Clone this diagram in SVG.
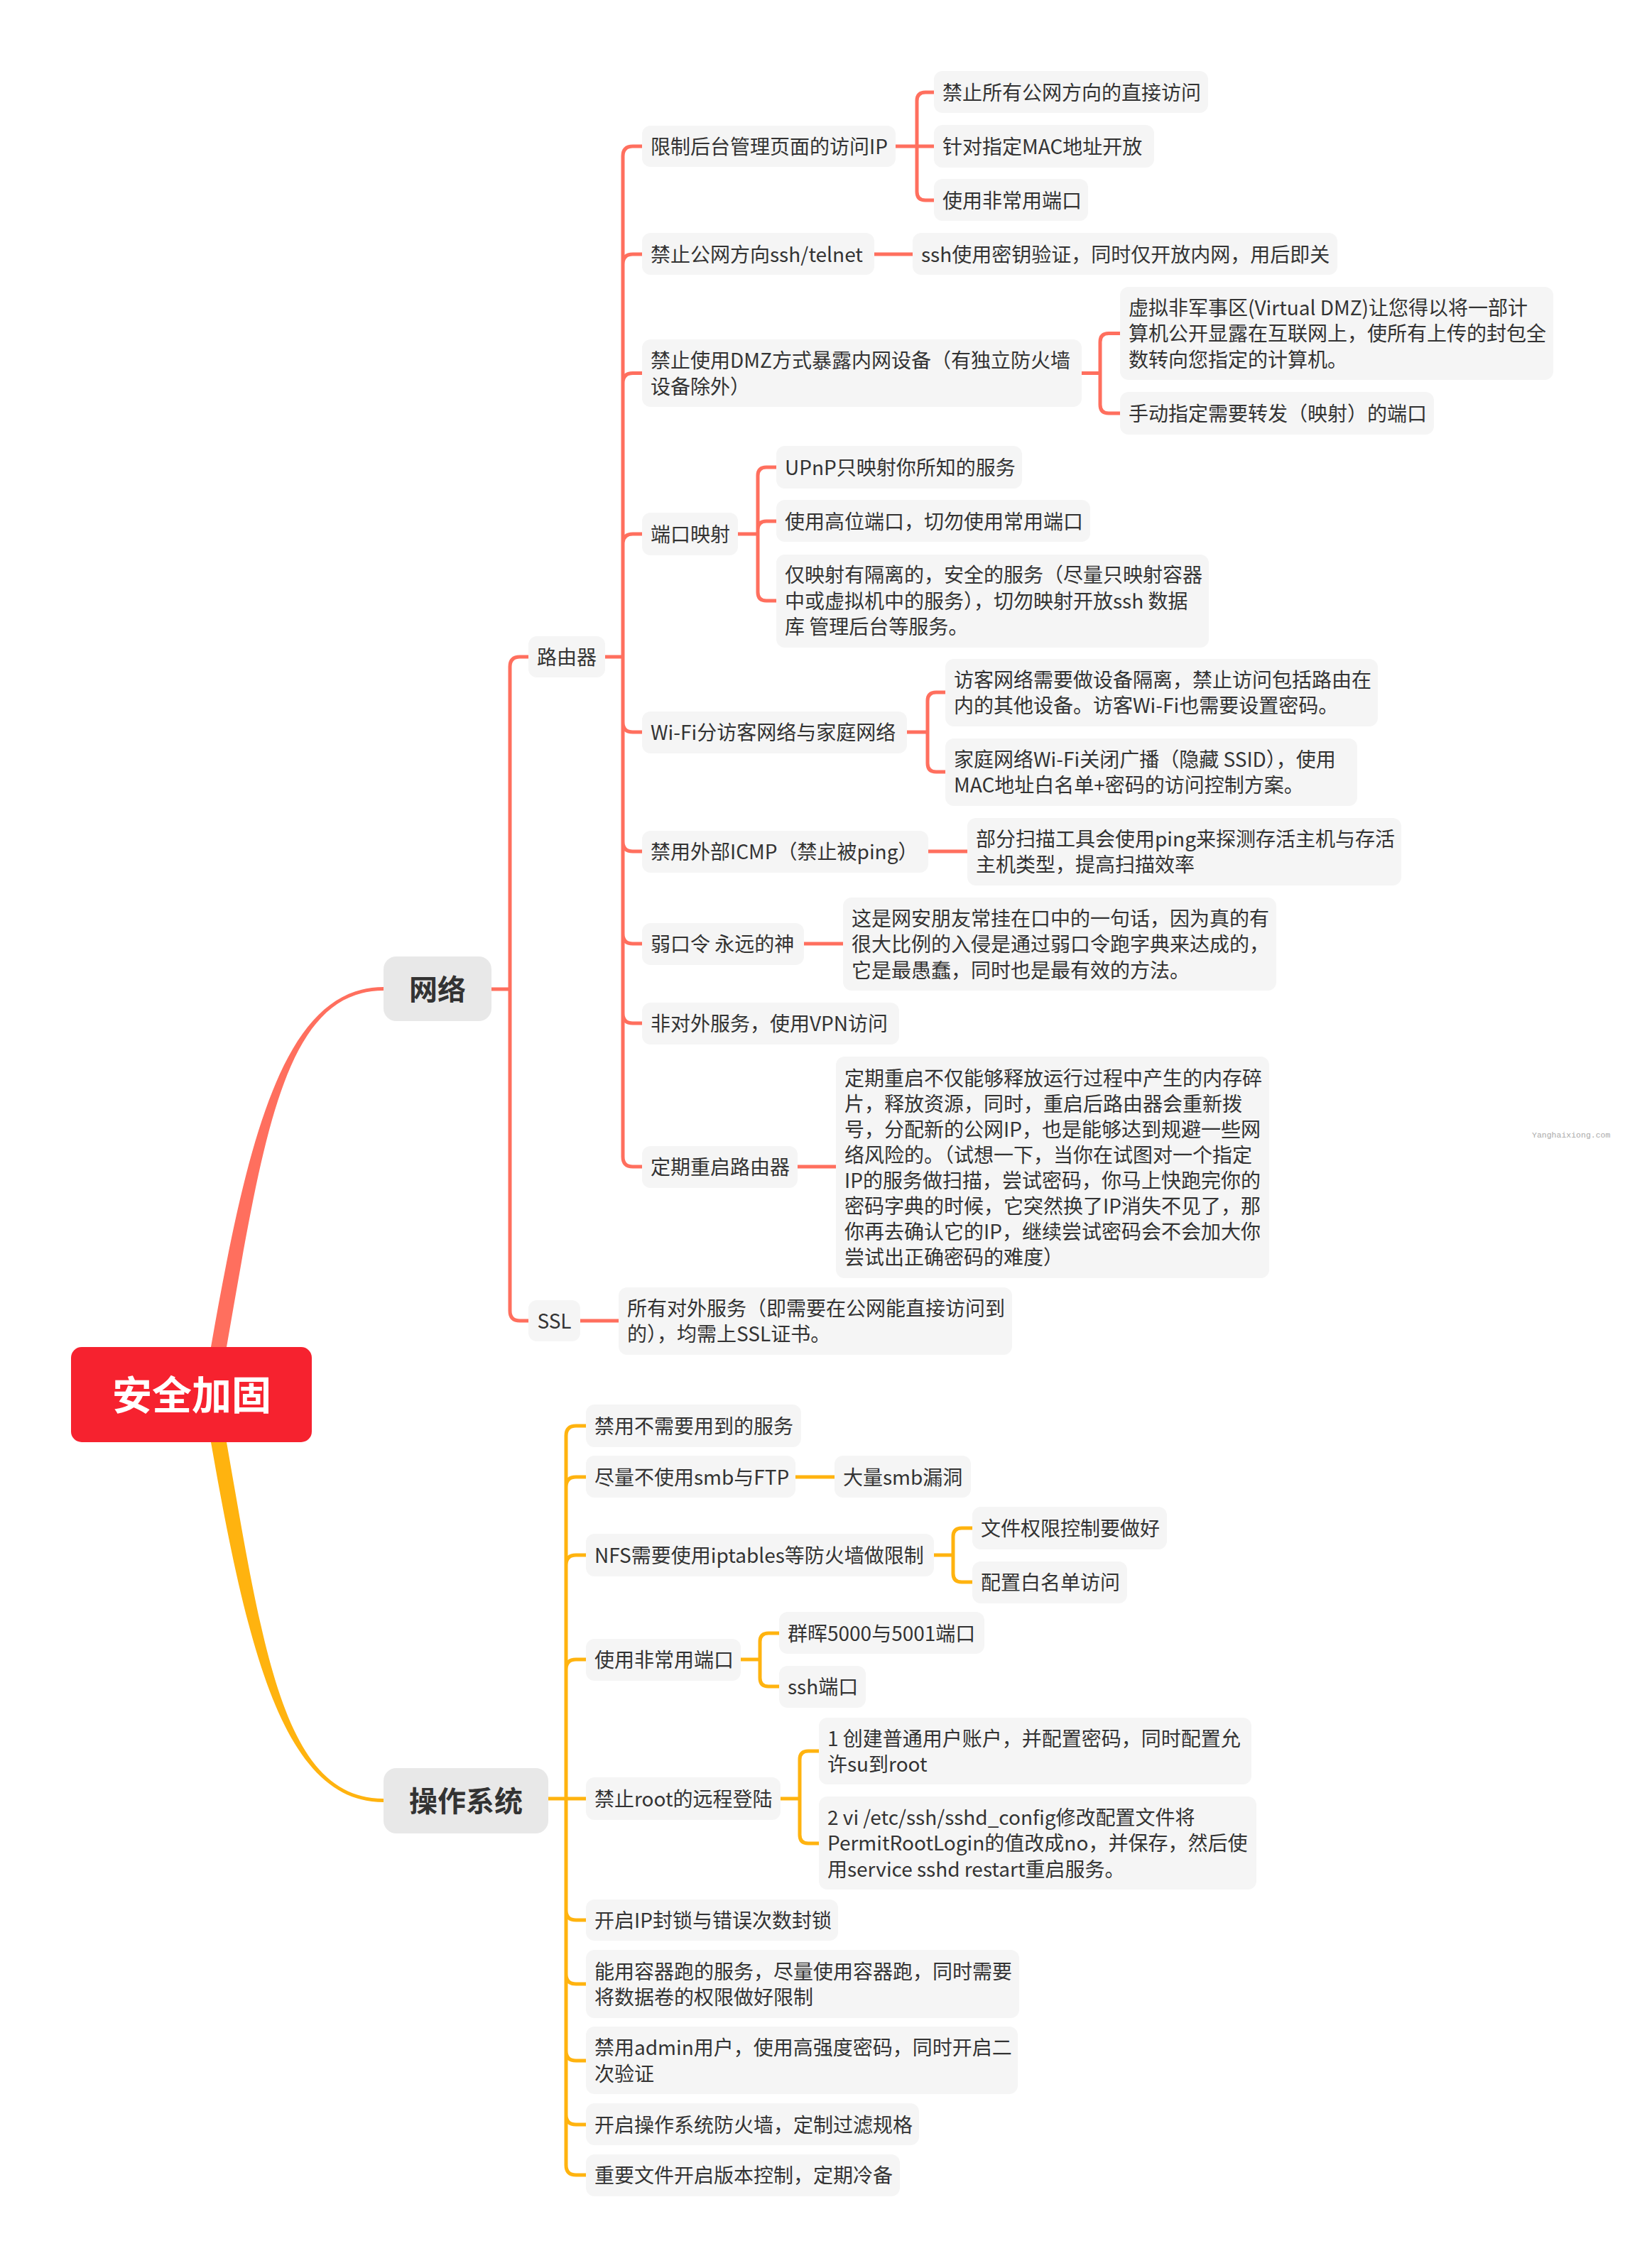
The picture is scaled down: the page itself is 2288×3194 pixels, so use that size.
<svg xmlns="http://www.w3.org/2000/svg" width="2288" height="3194" viewBox="0 0 2288 3194">
<style>
.box{fill:#F5F5F5}
.t{font-family:"Noto Sans CJK SC","Noto Sans",sans-serif;font-size:28px;fill:#333333}
.l1{fill:#E8E8E8}
.h1{font-family:"Noto Sans CJK SC","Noto Sans",sans-serif;font-size:40px;font-weight:bold;fill:#333333;text-anchor:middle}
.c1{fill:none;stroke:#FF6F5E;stroke-width:5;stroke-linecap:round;stroke-linejoin:round}
.c2{fill:none;stroke:#FFB30F;stroke-width:5;stroke-linecap:round;stroke-linejoin:round}
.wm{font-family:"Liberation Mono",monospace;font-size:11.5px;fill:#AAAAAA}
</style>
<rect width="2288" height="3194" fill="#FFFFFF"/>
<g id="connectors">
<path d="M297 1930 L297 1897 C349 1600 400 1390 540 1390 L540 1395 C400 1395 371 1600 319 1897 L319 1930 Z" fill="#FF6F5E"/>
<path d="M297 2000 L297 2031 C349 2328 400 2538 540 2538 L540 2533 C400 2533 371 2328 319 2031 L319 2000 Z" fill="#FFB30F"/>
<path class="c1" d="M692 1393 H718 M718 1393 V939 Q718 925 732 925 H744 M718 1393 V1846 Q718 1860 732 1860 H744"/>
<path class="c1" d="M852 925 H877 M877 925 V220 Q877 206 891 206 H904 M877 372 Q877 358 891 358 H904 M877 539.5 Q877 525.5 891 525.5 H904 M877 766 Q877 752 891 752 H904 M877 925 V1629 Q877 1643 891 1643 H904 M877 1017 Q877 1031 891 1031 H904 M877 1185 Q877 1199 891 1199 H904 M877 1315 Q877 1329 891 1329 H904 M877 1427 Q877 1441 891 1441 H904"/>
<path class="c1" d="M1261 206 H1315 M1291 206 V142 Q1291 130 1303 130 H1315 M1291 206 V270 Q1291 282 1303 282 H1315"/>
<path class="c1" d="M1231 358 H1285"/>
<path class="c1" d="M1523 525.5 H1549 M1549 525.5 V481.5 Q1549 469.5 1561 469.5 H1577 M1549 525.5 V570 Q1549 582 1561 582 H1577"/>
<path class="c1" d="M1039 752 H1067 M1067 752 V670 Q1067 658 1079 658 H1093 M1067 752 V746 Q1067 734 1079 734 H1093 M1067 752 V834 Q1067 846 1079 846 H1093"/>
<path class="c1" d="M1277 1031 H1306 M1306 1031 V987 Q1306 975 1318 975 H1331 M1306 1031 V1075 Q1306 1087 1318 1087 H1331"/>
<path class="c1" d="M1307 1199 H1362 M1132 1329 H1187 M1123 1643 H1177 M817 1860 H871"/>
<path class="c2" d="M772 2533 H825 M797 2533 V2022 Q797 2008 811 2008 H825 M797 2094 Q797 2080 811 2080 H825 M797 2204 Q797 2190 811 2190 H825 M797 2351 Q797 2337 811 2337 H825 M797 2533 V3049 Q797 3063 811 3063 H825 M797 2690 Q797 2704 811 2704 H825 M797 2780 Q797 2794 811 2794 H825 M797 2888 Q797 2902 811 2902 H825 M797 2978 Q797 2992 811 2992 H825"/>
<path class="c2" d="M1120 2080 H1175"/>
<path class="c2" d="M1315 2190 H1342 M1342 2190 V2164 Q1342 2152 1354 2152 H1369 M1342 2190 V2216 Q1342 2228 1354 2228 H1369"/>
<path class="c2" d="M1043 2337 H1070 M1070 2337 V2312 Q1070 2300 1082 2300 H1097 M1070 2337 V2363 Q1070 2375 1082 2375 H1097"/>
<path class="c2" d="M1099 2533 H1126 M1126 2533 V2478 Q1126 2466 1138 2466 H1153 M1126 2533 V2584 Q1126 2596 1138 2596 H1153"/>
</g>
<g id="root"><rect x="100" y="1897" width="339" height="134" rx="15" fill="#F6222F"/><text x="270" y="1985" font-family="Noto Sans CJK SC,sans-serif" font-size="56" font-weight="bold" fill="#FFFFFF" text-anchor="middle">安全加固</text></g>
<g id="n-network"><rect class="l1" x="540" y="1347" width="152" height="91" rx="18"/><text class="h1" x="616" y="1408">网络</text></g>
<g id="n-os"><rect class="l1" x="540" y="2490" width="232" height="92" rx="18"/><text class="h1" x="656" y="2551">操作系统</text></g>
<g id="n-router"><rect class="box" x="744" y="896" width="108" height="58" rx="12"/><text class="t" x="756" y="935.5">路由器</text></g>
<g id="n-ssl"><rect class="box" x="744" y="1831" width="73" height="58" rx="12"/><text class="t" x="780.5" y="1870.5" text-anchor="middle">SSL</text></g>
<g id="n-limit"><rect class="box" x="904" y="177" width="357" height="58" rx="12"/><text class="t" x="916" y="216.5">限制后台管理页面的访问IP</text></g>
<g id="n-limit1"><rect class="box" x="1315" y="100" width="386" height="59" rx="12"/><text class="t" x="1327" y="140.5">禁止所有公网方向的直接访问</text></g>
<g id="n-limit2"><rect class="box" x="1315" y="176" width="310" height="60" rx="12"/><text class="t" x="1327" y="216.5">针对指定MAC地址开放</text></g>
<g id="n-limit3"><rect class="box" x="1315" y="252" width="217" height="59" rx="12"/><text class="t" x="1327" y="292.5">使用非常用端口</text></g>
<g id="n-ssh"><rect class="box" x="904" y="328" width="327" height="59" rx="12"/><text class="t" x="916" y="368.5">禁止公网方向ssh/telnet</text></g>
<g id="n-ssh1"><rect class="box" x="1285" y="328" width="598" height="59" rx="12"/><text class="t" x="1297" y="368.5">ssh使用密钥验证，同时仅开放内网，用后即关</text></g>
<g id="n-dmz"><rect class="box" x="904" y="478" width="619" height="95" rx="12"/><text class="t"><tspan x="916" y="518">禁止使用DMZ方式暴露内网设备（有独立防火墙</tspan><tspan x="916" y="554.5">设备除外）</tspan></text></g>
<g id="n-dmz1"><rect class="box" x="1577" y="404" width="610" height="131" rx="12"/><text class="t"><tspan x="1589" y="443.5">虚拟非军事区(Virtual DMZ)让您得以将一部计</tspan><tspan x="1589" y="480">算机公开显露在互联网上，使所有上传的封包全</tspan><tspan x="1589" y="516.5">数转向您指定的计算机。</tspan></text></g>
<g id="n-dmz2"><rect class="box" x="1577" y="552" width="442" height="60" rx="12"/><text class="t" x="1589" y="592.5">手动指定需要转发（映射）的端口</text></g>
<g id="n-port"><rect class="box" x="904" y="722" width="135" height="60" rx="12"/><text class="t" x="916" y="762.5">端口映射</text></g>
<g id="n-port1"><rect class="box" x="1093" y="628" width="346" height="60" rx="12"/><text class="t" x="1105" y="668.5">UPnP只映射你所知的服务</text></g>
<g id="n-port2"><rect class="box" x="1093" y="704" width="442" height="59" rx="12"/><text class="t" x="1105" y="744.5">使用高位端口，切勿使用常用端口</text></g>
<g id="n-port3"><rect class="box" x="1093" y="781" width="609" height="131" rx="12"/><text class="t"><tspan x="1105" y="820">仅映射有隔离的，安全的服务（尽量只映射容器</tspan><tspan x="1105" y="856.5">中或虚拟机中的服务），切勿映射开放ssh 数据</tspan><tspan x="1105" y="893">库 管理后台等服务。</tspan></text></g>
<g id="n-wifi"><rect class="box" x="904" y="1002" width="373" height="59" rx="12"/><text class="t" x="916" y="1041.5">Wi-Fi分访客网络与家庭网络</text></g>
<g id="n-wifi1"><rect class="box" x="1331" y="928" width="609" height="95" rx="12"/><text class="t"><tspan x="1343" y="967.5">访客网络需要做设备隔离，禁止访问包括路由在</tspan><tspan x="1343" y="1004">内的其他设备。访客Wi-Fi也需要设置密码。</tspan></text></g>
<g id="n-wifi2"><rect class="box" x="1331" y="1040" width="580" height="95" rx="12"/><text class="t"><tspan x="1343" y="1079.5">家庭网络Wi-Fi关闭广播（隐藏 SSID），使用</tspan><tspan x="1343" y="1116">MAC地址白名单+密码的访问控制方案。</tspan></text></g>
<g id="n-icmp"><rect class="box" x="904" y="1170" width="403" height="59" rx="12"/><text class="t" x="916" y="1209.5">禁用外部ICMP（禁止被ping）</text></g>
<g id="n-icmp1"><rect class="box" x="1362" y="1152" width="611" height="95" rx="12"/><text class="t"><tspan x="1374" y="1191.5">部分扫描工具会使用ping来探测存活主机与存活</tspan><tspan x="1374" y="1228">主机类型，提高扫描效率</tspan></text></g>
<g id="n-weak"><rect class="box" x="904" y="1300" width="228" height="59" rx="12"/><text class="t" x="916" y="1339.5">弱口令 永远的神</text></g>
<g id="n-weak1"><rect class="box" x="1187" y="1264" width="610" height="131" rx="12"/><text class="t"><tspan x="1199" y="1303.5">这是网安朋友常挂在口中的一句话，因为真的有</tspan><tspan x="1199" y="1340">很大比例的入侵是通过弱口令跑字典来达成的，</tspan><tspan x="1199" y="1376.5">它是最愚蠢，同时也是最有效的方法。</tspan></text></g>
<g id="n-vpn"><rect class="box" x="904" y="1412" width="362" height="59" rx="12"/><text class="t" x="916" y="1451.5">非对外服务，使用VPN访问</text></g>
<g id="n-reboot"><rect class="box" x="904" y="1614" width="219" height="59" rx="12"/><text class="t" x="916" y="1653.5">定期重启路由器</text></g>
<g id="n-reboot1"><rect class="box" x="1177" y="1488" width="610" height="312" rx="12"/><text class="t"><tspan x="1189" y="1528.5">定期重启不仅能够释放运行过程中产生的内存碎</tspan><tspan x="1189" y="1564.5">片，释放资源，同时，重启后路由器会重新拨</tspan><tspan x="1189" y="1600.5">号，分配新的公网IP，也是能够达到规避一些网</tspan><tspan x="1189" y="1636.5">络风险的。（试想一下，当你在试图对一个指定</tspan><tspan x="1189" y="1672.5">IP的服务做扫描，尝试密码，你马上快跑完你的</tspan><tspan x="1189" y="1708.5">密码字典的时候，它突然换了IP消失不见了，那</tspan><tspan x="1189" y="1744.5">你再去确认它的IP，继续尝试密码会不会加大你</tspan><tspan x="1189" y="1780.5">尝试出正确密码的难度）</tspan></text></g>
<g id="n-ssl1"><rect class="box" x="871" y="1813" width="554" height="95" rx="12"/><text class="t"><tspan x="883" y="1852.5">所有对外服务（即需要在公网能直接访问到</tspan><tspan x="883" y="1889">的），均需上SSL证书。</tspan></text></g>
<g id="o-svc"><rect class="box" x="825" y="1978" width="303" height="60" rx="12"/><text class="t" x="837" y="2018.5">禁用不需要用到的服务</text></g>
<g id="o-smb"><rect class="box" x="825" y="2050" width="295" height="59" rx="12"/><text class="t" x="837" y="2090.5">尽量不使用smb与FTP</text></g>
<g id="o-smb1"><rect class="box" x="1175" y="2050" width="192" height="59" rx="12"/><text class="t" x="1187" y="2090.5">大量smb漏洞</text></g>
<g id="o-nfs"><rect class="box" x="825" y="2160" width="490" height="60" rx="12"/><text class="t" x="837" y="2200.5">NFS需要使用iptables等防火墙做限制</text></g>
<g id="o-nfs1"><rect class="box" x="1369" y="2122" width="274" height="60" rx="12"/><text class="t" x="1381" y="2162.5">文件权限控制要做好</text></g>
<g id="o-nfs2"><rect class="box" x="1369" y="2199" width="218" height="59" rx="12"/><text class="t" x="1381" y="2238.5">配置白名单访问</text></g>
<g id="o-port"><rect class="box" x="825" y="2308" width="218" height="59" rx="12"/><text class="t" x="837" y="2347.5">使用非常用端口</text></g>
<g id="o-port1"><rect class="box" x="1097" y="2270" width="289" height="59" rx="12"/><text class="t" x="1109" y="2310.5">群晖5000与5001端口</text></g>
<g id="o-port2"><rect class="box" x="1097" y="2346" width="122" height="59" rx="12"/><text class="t" x="1109" y="2385.5">ssh端口</text></g>
<g id="o-root"><rect class="box" x="825" y="2503" width="274" height="60" rx="12"/><text class="t" x="837" y="2543.5">禁止root的远程登陆</text></g>
<g id="o-root1"><rect class="box" x="1153" y="2419" width="609" height="94" rx="12"/><text class="t"><tspan x="1165" y="2458.5">1 创建普通用户账户，并配置密码，同时配置允</tspan><tspan x="1165" y="2495">许su到root</tspan></text></g>
<g id="o-root2"><rect class="box" x="1153" y="2530" width="616" height="131" rx="12"/><text class="t"><tspan x="1165" y="2569.5">2 vi /etc/ssh/sshd_config修改配置文件将</tspan><tspan x="1165" y="2606">PermitRootLogin的值改成no，并保存，然后使</tspan><tspan x="1165" y="2642.5">用service sshd restart重启服务。</tspan></text></g>
<g id="o-ipban"><rect class="box" x="825" y="2675" width="355" height="58" rx="12"/><text class="t" x="837" y="2714.5">开启IP封锁与错误次数封锁</text></g>
<g id="o-docker"><rect class="box" x="825" y="2746" width="610" height="96" rx="12"/><text class="t"><tspan x="837" y="2786.5">能用容器跑的服务，尽量使用容器跑，同时需要</tspan><tspan x="837" y="2823">将数据卷的权限做好限制</tspan></text></g>
<g id="o-admin"><rect class="box" x="825" y="2854" width="608" height="95" rx="12"/><text class="t"><tspan x="837" y="2894">禁用admin用户，使用高强度密码，同时开启二</tspan><tspan x="837" y="2930.5">次验证</tspan></text></g>
<g id="o-fw"><rect class="box" x="825" y="2962" width="469" height="59" rx="12"/><text class="t" x="837" y="3002.5">开启操作系统防火墙，定制过滤规格</text></g>
<g id="o-backup"><rect class="box" x="825" y="3034" width="442" height="59" rx="12"/><text class="t" x="837" y="3073.5">重要文件开启版本控制，定期冷备</text></g>
<text class="wm" x="2157" y="1602">Yanghaixiong.com</text>
</svg>
